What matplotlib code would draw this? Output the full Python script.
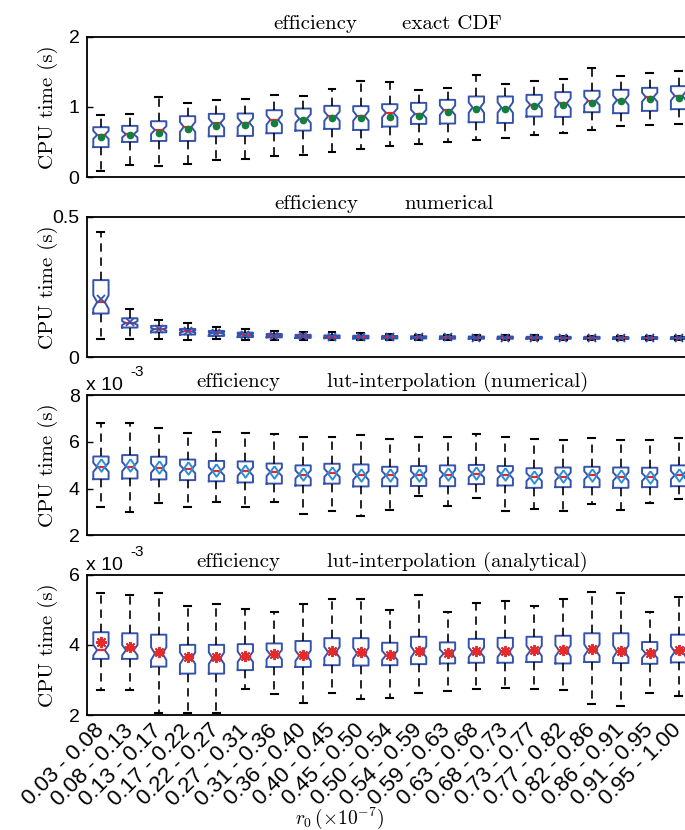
import numpy as np
import matplotlib
matplotlib.use("Agg")
import matplotlib.pyplot as plt

plt.rcParams['font.family'] = ['Liberation Sans', 'DejaVu Sans']
plt.rcParams['mathtext.fontset'] = 'cm'
plt.rcParams['axes.unicode_minus'] = False

categories = ["0.03 - 0.08", "0.08 - 0.13", "0.13 - 0.17", "0.17 - 0.22", "0.22 - 0.27",
              "0.27 - 0.31", "0.31 - 0.36", "0.36 - 0.40", "0.40 - 0.45", "0.45 - 0.50",
              "0.50 - 0.54", "0.54 - 0.59", "0.59 - 0.63", "0.63 - 0.68", "0.68 - 0.73",
              "0.73 - 0.77", "0.77 - 0.82", "0.82 - 0.86", "0.86 - 0.91", "0.91 - 0.95",
              "0.95 - 1.00"]

# Panel 1: exact CDF (s)
exact_lo = [0.086,0.167,0.153,0.186,0.243,0.262,0.300,0.314,0.352,0.400,0.448,0.471,0.500,0.529,0.557,0.600,0.629,0.671,0.729,0.743,0.757]
exact_q1 = [0.426,0.500,0.514,0.514,0.581,0.586,0.624,0.662,0.686,0.671,0.719,0.757,0.762,0.781,0.771,0.862,0.857,0.924,0.910,0.943,0.967]
exact_med = [0.600,0.610,0.670,0.714,0.767,0.776,0.814,0.833,0.867,0.871,0.914,0.900,0.952,0.990,0.990,1.029,1.052,1.086,1.095,1.138,1.157]
exact_mean = [0.567,0.596,0.633,0.681,0.729,0.738,0.776,0.810,0.838,0.848,0.857,0.871,0.929,0.967,0.971,1.005,1.024,1.057,1.081,1.114,1.133]
exact_q3 = [0.710,0.729,0.795,0.867,0.900,0.905,0.952,0.976,1.014,1.010,1.038,1.057,1.100,1.148,1.148,1.171,1.210,1.229,1.243,1.271,1.295]
exact_hi = [0.886,0.905,1.147,1.052,1.100,1.105,1.162,1.148,1.257,1.362,1.352,1.243,1.271,1.457,1.319,1.371,1.395,1.548,1.443,1.476,1.514]

# Panel 2: numerical (s)
num_lo = [0.065,0.064,0.063,0.061,0.063,0.061,0.060,0.060,0.060,0.060,0.060,0.060,0.060,0.060,0.060,0.060,0.060,0.060,0.060,0.060,0.060]
num_q1 = [0.155,0.105,0.088,0.080,0.075,0.071,0.070,0.068,0.067,0.066,0.066,0.066,0.065,0.065,0.065,0.065,0.065,0.065,0.064,0.064,0.064]
num_med = [0.196,0.121,0.099,0.091,0.085,0.080,0.076,0.074,0.073,0.072,0.071,0.070,0.070,0.069,0.069,0.069,0.068,0.068,0.068,0.068,0.068]
num_mean = [0.205,0.123,0.100,0.092,0.085,0.080,0.076,0.074,0.073,0.072,0.071,0.070,0.070,0.069,0.069,0.069,0.068,0.068,0.068,0.068,0.068]
num_q3 = [0.274,0.138,0.111,0.100,0.093,0.087,0.082,0.079,0.077,0.076,0.075,0.074,0.074,0.073,0.073,0.072,0.072,0.072,0.071,0.071,0.071]
num_hi = [0.446,0.170,0.133,0.121,0.106,0.100,0.094,0.090,0.088,0.085,0.083,0.080,0.079,0.078,0.078,0.077,0.076,0.076,0.076,0.075,0.075]

# Panel 3: lut-interpolation (numerical), units of 1e-3 s
lutn_lo = [3.19,3.01,3.39,3.19,3.43,3.23,3.41,2.93,3.04,2.81,3.07,3.67,3.27,3.61,3.04,3.14,3.04,3.33,3.07,3.39,3.56]
lutn_q1 = [4.40,4.43,4.39,4.36,4.31,4.26,4.21,4.13,4.21,4.09,4.10,4.11,4.10,4.19,4.13,4.03,4.06,4.06,4.03,4.06,4.10]
lutn_med = [4.91,4.94,4.87,4.83,4.74,4.73,4.71,4.60,4.67,4.56,4.57,4.57,4.60,4.64,4.60,4.49,4.51,4.56,4.51,4.49,4.57]
lutn_mean = [5.00,5.02,4.93,4.88,4.80,4.77,4.72,4.63,4.68,4.60,4.58,4.58,4.61,4.65,4.61,4.51,4.53,4.57,4.53,4.51,4.58]
lutn_q3 = [5.37,5.43,5.36,5.24,5.18,5.16,5.07,4.99,5.06,5.03,4.93,4.96,4.99,5.01,4.96,4.87,4.90,4.93,4.90,4.89,4.99]
lutn_hi = [6.80,6.81,6.61,6.38,6.40,6.36,6.34,6.19,6.21,6.31,6.10,6.19,6.20,6.33,6.19,6.10,6.07,6.14,6.06,6.07,6.16]

# Panel 4: lut-interpolation (analytical), units of 1e-3 s
luta_lo = [2.71,2.71,2.06,2.06,2.06,2.73,2.61,2.34,2.63,2.46,2.49,2.64,2.67,2.73,2.77,2.75,2.70,2.31,2.26,2.63,2.55]
luta_q1 = [3.60,3.60,3.38,3.18,3.18,3.28,3.37,3.37,3.42,3.41,3.42,3.45,3.47,3.49,3.49,3.51,3.47,3.51,3.48,3.46,3.50]
luta_med = [3.85,3.85,3.75,3.62,3.62,3.66,3.72,3.69,3.79,3.76,3.70,3.80,3.75,3.79,3.80,3.83,3.83,3.85,3.81,3.75,3.80]
luta_mean = [4.08,3.95,3.80,3.64,3.64,3.68,3.74,3.72,3.82,3.79,3.72,3.82,3.78,3.82,3.83,3.85,3.85,3.89,3.83,3.78,3.84]
luta_q3 = [4.36,4.33,4.29,4.00,4.00,4.02,4.04,4.11,4.19,4.19,4.06,4.23,4.07,4.17,4.20,4.23,4.26,4.33,4.33,4.08,4.29]
luta_hi = [5.47,5.41,5.47,5.11,5.16,5.01,4.95,5.17,5.31,5.31,5.00,5.41,4.95,5.18,5.25,5.12,5.32,5.51,5.49,4.93,5.37]

BOX_BLUE = '#3553AD'
MED_RED = '#E8262B'
NOTCH_FRAC = 0.2

diamond = [(0, 1), (0.72, 0), (0, -1), (-0.72, 0), (0, 1)]

panels = [
    dict(data=(exact_lo, exact_q1, exact_med, exact_mean, exact_q3, exact_hi),
         ylim=(0, 2), yticks=[0, 1, 2], yticklabels=["0", "1", "2"],
         title=("efficiency", "exact CDF"), tx=(0.446, 0.520),
         meanprops=dict(marker='o', markersize=4.5, markerfacecolor='#11803C',
                        markeredgecolor='#11803C', linestyle='none'),
         mult=False),
    dict(data=(num_lo, num_q1, num_med, num_mean, num_q3, num_hi),
         ylim=(0, 0.5), yticks=[0, 0.5], yticklabels=["0", "0.5"],
         title=("efficiency", "numerical"), tx=(0.4476, 0.5235),
         meanprops=dict(marker='x', markersize=6, markeredgecolor=BOX_BLUE,
                        markeredgewidth=1.3, linestyle='none'),
         mult=False),
    dict(data=(lutn_lo, lutn_q1, lutn_med, lutn_mean, lutn_q3, lutn_hi),
         ylim=(2, 8), yticks=[2, 4, 6, 8], yticklabels=["2", "4", "6", "8"],
         title=("efficiency", "lut-interpolation (numerical)"), tx=(0.319, 0.3965),
         meanprops=dict(marker=diamond, markersize=9, markerfacecolor='none',
                        markeredgecolor='#2A90D8', markeredgewidth=1.4, linestyle='none'),
         mult=True),
    dict(data=(luta_lo, luta_q1, luta_med, luta_mean, luta_q3, luta_hi),
         ylim=(2, 6), yticks=[2, 4, 6], yticklabels=["2", "4", "6"],
         title=("efficiency", "lut-interpolation (analytical)"), tx=(0.319, 0.3965),
         meanprops=dict(marker=(8, 2, 0), markersize=8, markeredgecolor='#E52A2A',
                        markeredgewidth=1.4, linestyle='none'),
         mult=True),
]

W, H = 685, 830
fig = plt.figure(figsize=(W / 100, H / 100), dpi=100)

ax_tops = [36.7, 216.7, 395.0, 574.7]
ax_h = 140.3
left_px, right_px = 86.5, 693.0

positions = np.arange(1, len(categories) + 1)

for i, p in enumerate(panels):
    top = ax_tops[i]
    ax = fig.add_axes([left_px / W, 1 - (top + ax_h) / H, (right_px - left_px) / W, ax_h / H])
    lo, q1, med, mean, q3, hi = p['data']
    stats = []
    for k in range(len(categories)):
        iqr = q3[k] - q1[k]
        stats.append(dict(whislo=lo[k], q1=q1[k], med=med[k], q3=q3[k], whishi=hi[k],
                          mean=mean[k], cilo=med[k] - NOTCH_FRAC * iqr,
                          cihi=med[k] + NOTCH_FRAC * iqr, fliers=[]))
    ax.bxp(stats, positions=positions, widths=0.53, capwidths=0.24,
           shownotches=True, showmeans=True, showfliers=False,
           boxprops=dict(color=BOX_BLUE, linewidth=1.4),
           whiskerprops=dict(color='black', linewidth=1.2, linestyle=(0, (5, 3.5))),
           capprops=dict(color='black', linewidth=1.5),
           medianprops=dict(color=MED_RED, linewidth=1.6),
           meanprops=p['meanprops'])
    ax.set_xlim(0.5, len(categories) + 0.5)
    ax.set_ylim(*p['ylim'])
    ax.set_yticks(p['yticks'])
    ax.set_yticklabels(p['yticklabels'], fontsize=14)
    ax.tick_params(axis='y', direction='in', length=4, width=1, right=True, pad=5)
    for s in ax.spines.values():
        s.set_linewidth(1.3)
    if i < 3:
        ax.set_xticks([])
    else:
        ax.set_xticks(positions)
        ax.set_xticklabels(categories, rotation=45, ha='right', va='center',
                           rotation_mode='anchor', fontsize=16)
        ax.tick_params(axis='x', length=0, pad=9)
    ax.set_ylabel("CPU time (s)", family='cmr10', fontsize=15)
    ax.yaxis.set_label_coords(-0.047, 0.5)
    ty = 1 + 8 / ax_h
    ax.text(p['tx'][0], ty, p['title'][0], transform=ax.transAxes, ha='right', va='baseline',
            family='cmr10', fontsize=15)
    ax.text(p['tx'][1], ty, p['title'][1], transform=ax.transAxes, ha='left', va='baseline',
            family='cmr10', fontsize=15)
    if p['mult']:
        ax.text(0.0, 1 + 4.5 / ax_h, "x 10", transform=ax.transAxes, ha='left', va='baseline',
                fontsize=14)
        ax.text(0.0717, 1 + 19 / ax_h, "-3", transform=ax.transAxes, ha='left', va='baseline',
                fontsize=11)

fig.text(340 / W, 1 - 818 / H, r'$r_0\,(\times10^{-7})$', ha='center', va='center', fontsize=14)

fig.savefig("out.png", dpi=100)
